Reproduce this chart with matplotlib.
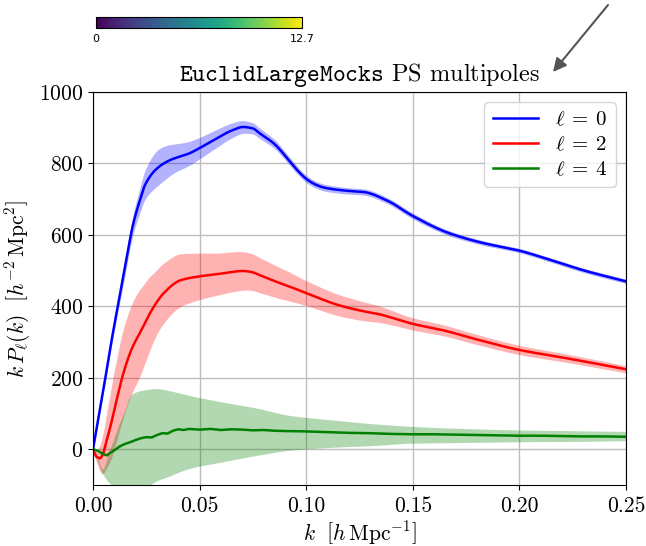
import numpy as np
import matplotlib
matplotlib.use("Agg")
import matplotlib.pyplot as plt
from matplotlib.cm import ScalarMappable
from matplotlib.colors import Normalize

plt.rcParams.update({
    "font.family": "serif",
    "font.serif": ["cmr10", "DejaVu Serif"],
    "mathtext.fontset": "cm",
    "axes.formatter.use_mathtext": True,
    "axes.unicode_minus": True,
})

# Monopole (l = 0): mean and 1-sigma spread
k_mono = [0.0, 0.005, 0.0088, 0.0142, 0.0189, 0.022, 0.0244, 0.03, 0.036, 0.0455,
          0.05, 0.058, 0.065, 0.0704, 0.075, 0.078, 0.085, 0.0924, 0.096, 0.1,
          0.104, 0.108, 0.1114, 0.12, 0.127, 0.138, 0.15, 0.1665, 0.1825, 0.2,
          0.214, 0.23, 0.25]
p_mono = [0, 172, 308, 483, 632, 697, 740, 786, 809, 829,
          843, 870, 892, 902, 898, 885, 855, 805, 780, 757,
          742, 733, 729, 723, 720, 696, 653, 606, 578, 556,
          531, 501, 470]
k_mono_sig = [0.0, 0.005, 0.01, 0.02, 0.025, 0.03, 0.04, 0.05, 0.06, 0.07, 0.08, 0.1, 0.15, 0.2, 0.25]
s_mono = [0, 8, 15, 30, 42, 50, 38, 30, 24, 18, 14, 10, 8, 6, 6]

# Quadrupole (l = 2)
k_quad = [0.0, 0.0017, 0.0033, 0.0047, 0.0064, 0.008, 0.0103, 0.0142, 0.0181,
          0.0228, 0.0275, 0.033, 0.041, 0.05, 0.058, 0.0704, 0.0736, 0.08, 0.0877,
          0.0924, 0.1, 0.116, 0.128, 0.1335, 0.15, 0.165, 0.179, 0.2, 0.222, 0.25]
p_quad = [0, -21, -25, -12, 25, 60, 118, 212, 280,
          335, 389, 436, 473, 484, 490, 499, 497, 483, 465,
          455, 437, 402, 385, 379, 351, 332, 309, 278, 255, 224]
k_quad_sig = [0.0, 0.002, 0.005, 0.01, 0.015, 0.02, 0.025, 0.03, 0.04, 0.05, 0.06,
              0.07, 0.08, 0.09, 0.1, 0.128, 0.15, 0.2, 0.25]
s_quad = [0, 20, 60, 110, 125, 125, 110, 90, 75, 65, 58,
          54, 48, 42, 35, 26, 17, 13, 10]

# Hexadecapole (l = 4)
k_hexa = [0.0, 0.0025, 0.005, 0.0065, 0.008, 0.01, 0.0125, 0.015, 0.0175, 0.02,
          0.0225, 0.025, 0.0275, 0.03, 0.0325, 0.035, 0.0375, 0.04, 0.0425, 0.045,
          0.05, 0.055, 0.06, 0.065, 0.07, 0.075, 0.08, 0.085, 0.09, 0.1,
          0.11, 0.12, 0.13, 0.14, 0.15, 0.16, 0.17, 0.18, 0.19, 0.2,
          0.21, 0.22, 0.23, 0.24, 0.25]
p_hexa = [0, -5, -14, -17, -10, -3, 8, 15, 20, 26,
          31, 34, 33, 40, 45, 44, 52, 56, 54, 57,
          55, 57, 54, 56, 55, 53, 54, 52, 51, 50,
          48, 46, 45, 43, 42, 42, 41, 40, 39, 38,
          38, 37, 36, 36, 35]
k_hexa_band = [0.0, 0.002, 0.0045, 0.007, 0.01, 0.0125, 0.015, 0.0175, 0.02, 0.025,
               0.03, 0.035, 0.045, 0.06, 0.077, 0.092, 0.114, 0.13, 0.15, 0.175,
               0.2, 0.225, 0.25]
hexa_hi = [0, -20, -55, -15, 35, 75, 110, 150, 160, 167,
           170, 165, 151, 133, 115, 95, 81, 72, 64, 58,
           54, 52, 50]
hexa_lo = [0, -30, -68, -90, -105, -110, -112, -115, -115, -105,
           -88, -77, -54, -36, -17, -3, 6, 10, 17, 19,
           21, 22, 24]


def pchip(x, y, xs):
    """Monotone piecewise-cubic Hermite interpolation (Fritsch-Carlson)."""
    x = np.asarray(x, float)
    y = np.asarray(y, float)
    h = np.diff(x)
    d = np.diff(y) / h
    m = np.zeros_like(y)
    for i in range(1, len(x) - 1):
        if d[i - 1] * d[i] > 0:
            w1 = 2 * h[i] + h[i - 1]
            w2 = h[i] + 2 * h[i - 1]
            m[i] = (w1 + w2) / (w1 / d[i - 1] + w2 / d[i])
    m[0] = d[0]
    m[-1] = d[-1]
    idx = np.clip(np.searchsorted(x, xs) - 1, 0, len(x) - 2)
    t = (xs - x[idx]) / h[idx]
    h00 = 2 * t**3 - 3 * t**2 + 1
    h10 = t**3 - 2 * t**2 + t
    h01 = -2 * t**3 + 3 * t**2
    h11 = t**3 - t**2
    return (h00 * y[idx] + h10 * h[idx] * m[idx]
            + h01 * y[idx + 1] + h11 * h[idx] * m[idx + 1])


fig = plt.figure(figsize=(6.46, 5.46), dpi=100)
ax = fig.add_axes([0.144, 0.1117, 0.825, 0.7198])

kk = np.linspace(0, 0.25, 1200)

series = [
    (k_mono, p_mono, k_mono_sig, s_mono, "blue", r"$\ell\:=\:0$"),
    (k_quad, p_quad, k_quad_sig, s_quad, "red", r"$\ell\:=\:2$"),
]
for k, p, ks, s, c, lab in series:
    mean = pchip(k, p, kk)
    sig = pchip(ks, s, kk)
    ax.fill_between(kk, mean - sig, mean + sig, color=c, alpha=0.3, lw=0)
    ax.plot(kk, mean, color=c, lw=1.8, label=lab)

hi = pchip(k_hexa_band, hexa_hi, kk)
lo = pchip(k_hexa_band, hexa_lo, kk)
ax.fill_between(kk, lo, hi, color="green", alpha=0.3, lw=0)
ax.plot(k_hexa, p_hexa, color="green", lw=1.8, label=r"$\ell\:=\:4$")

ax.set_xlim(0, 0.25)
ax.set_ylim(-100, 1000)
ax.set_xticks([0.0, 0.05, 0.10, 0.15, 0.20, 0.25])
ax.set_yticks([0, 200, 400, 600, 800, 1000])
ax.xaxis.set_major_formatter(matplotlib.ticker.FormatStrFormatter("%.2f"))
ax.tick_params(labelsize=15.5)
ax.tick_params(axis="x", pad=5)
ax.grid(True, color="#bdbdbd", lw=1)
ax.set_axisbelow(True)

ax.set_xlabel(r"$k\ \ \left[h\,\mathrm{Mpc}^{-1}\right]$", fontsize=15.5, labelpad=2)
ax.set_ylabel(r"$k\,P_\ell(k)\ \ \left[h^{-2}\,\mathrm{Mpc}^2\right]$", fontsize=15.5)
ax.set_title(r"$\mathtt{EuclidLargeMocks}$ PS multipoles", fontsize=17.5, pad=8)

ax.legend(loc="upper right", fontsize=15, handlelength=2.2, borderpad=0.4,
          labelspacing=0.3, framealpha=0.8)

# Colour scale strip
cax = fig.add_axes([96 / 646, 1 - 28 / 546, 206 / 646, 11 / 546])
cb = fig.colorbar(ScalarMappable(norm=Normalize(0, 12.7), cmap="viridis"),
                  cax=cax, orientation="horizontal")
cb.set_ticks([0, 12.7])
cb.set_ticklabels(["0", "12.7"])
cb.ax.tick_params(labelsize=8, length=0, pad=4)
for t in cb.ax.get_xticklabels():
    t.set_family("DejaVu Sans")
cb.outline.set_linewidth(0.8)

# Pointer arrow toward the title
fig.add_artist(matplotlib.patches.FancyArrowPatch(
    (608 / 646, 1 - 5 / 546), (553 / 646, 1 - 72 / 546),
    transform=fig.transFigure, arrowstyle="-|>", mutation_scale=20,
    color="#555555", lw=1.5, shrinkA=0, shrinkB=0))

fig.savefig("out.png", dpi=100)
